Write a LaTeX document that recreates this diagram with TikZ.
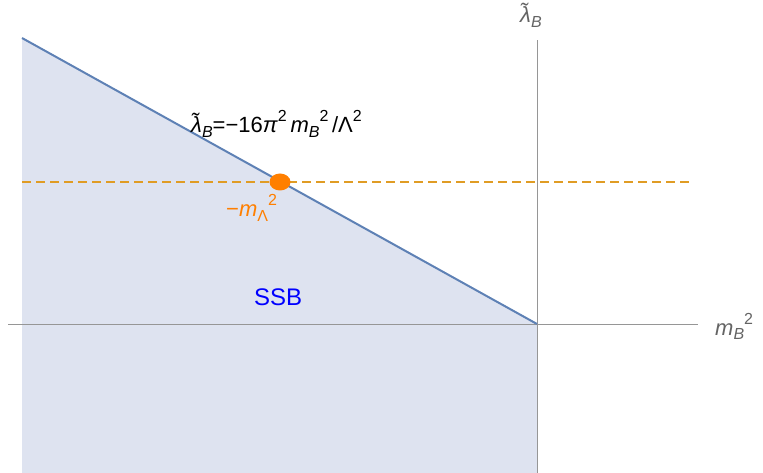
\documentclass[tikz,border=0pt]{standalone}
\usepackage{fontspec}
\usetikzlibrary{shapes.geometric}
\setmainfont{Liberation Sans}
\newcommand{\mysub}[1]{\raisebox{-0.22em}{\fontsize{16}{18}\selectfont #1}}
\newcommand{\mysup}[1]{\raisebox{0.5em}{\fontsize{16}{18}\selectfont #1}}
\definecolor{regfill}{RGB}{222,227,240}
\definecolor{bline}{RGB}{94,129,181}
\definecolor{dorange}{RGB}{224,156,36}
\definecolor{dotorange}{RGB}{255,127,0}
\definecolor{axgray}{RGB}{150,150,150}
\definecolor{labgray}{RGB}{100,100,100}
\tikzset{
  axis/.style={draw=axgray, line width=1pt},
  lab/.style={font=\fontsize{22}{26}\selectfont, inner sep=0pt},
}
\begin{document}
\begin{tikzpicture}[x=1pt,y=-1pt]
\useasboundingbox (0,0) rectangle (763,473);
% region
\fill[regfill] (22,38) -- (537,324) -- (537,473) -- (22,473) -- cycle;
% axes
\coordinate (yb) at (537,473);
\coordinate (yt) at (537,40);
\coordinate (xl) at (8,324);
\coordinate (xr) at (698,324);
\draw[axis] (yb) -- (yt);
\draw[axis] (xl) -- (xr);
% boundary line
\coordinate (ltop) at (22,38);
\coordinate (orig) at (537,324);
\draw[bline, line width=2pt] (ltop) -- (orig);
% dashed line
\coordinate (dl) at (22,182);
\coordinate (dr) at (692,182);
\draw[dorange, line width=1.8pt, dash pattern=on 9pt off 5pt] (dl) -- (dr);
% dot
\node[ellipse, fill=dotorange, minimum width=21pt, minimum height=17pt, inner sep=0pt] (dot) at (280,182) {};
% labels
\node[lab, anchor=base west] (eq) at (191,133) {\textit{λ̃}\mysub{\textit{B}}=−16\textit{π}\mysup{2}\,\textit{m}\mysub{\textit{B}}\mysup{2}\,/Λ\mysup{2}};
\node[lab, anchor=base west, text=dotorange] (ml) at (226,217) {−\textit{m}\mysub{Λ}\mysup{2}};
\node[lab, anchor=base west, text=blue, font=\fontsize{24}{28}\selectfont] (ssb) at (254,305) {SSB};
\node[lab, anchor=base west, text=labgray] (ylab) at (520,23) {\textit{λ̃}\mysub{\textit{B}}};
\node[lab, anchor=base west, text=labgray] (xlab) at (715,335) {\textit{m}\mysub{\textit{B}}\mysup{2}};
\end{tikzpicture}
\end{document}
